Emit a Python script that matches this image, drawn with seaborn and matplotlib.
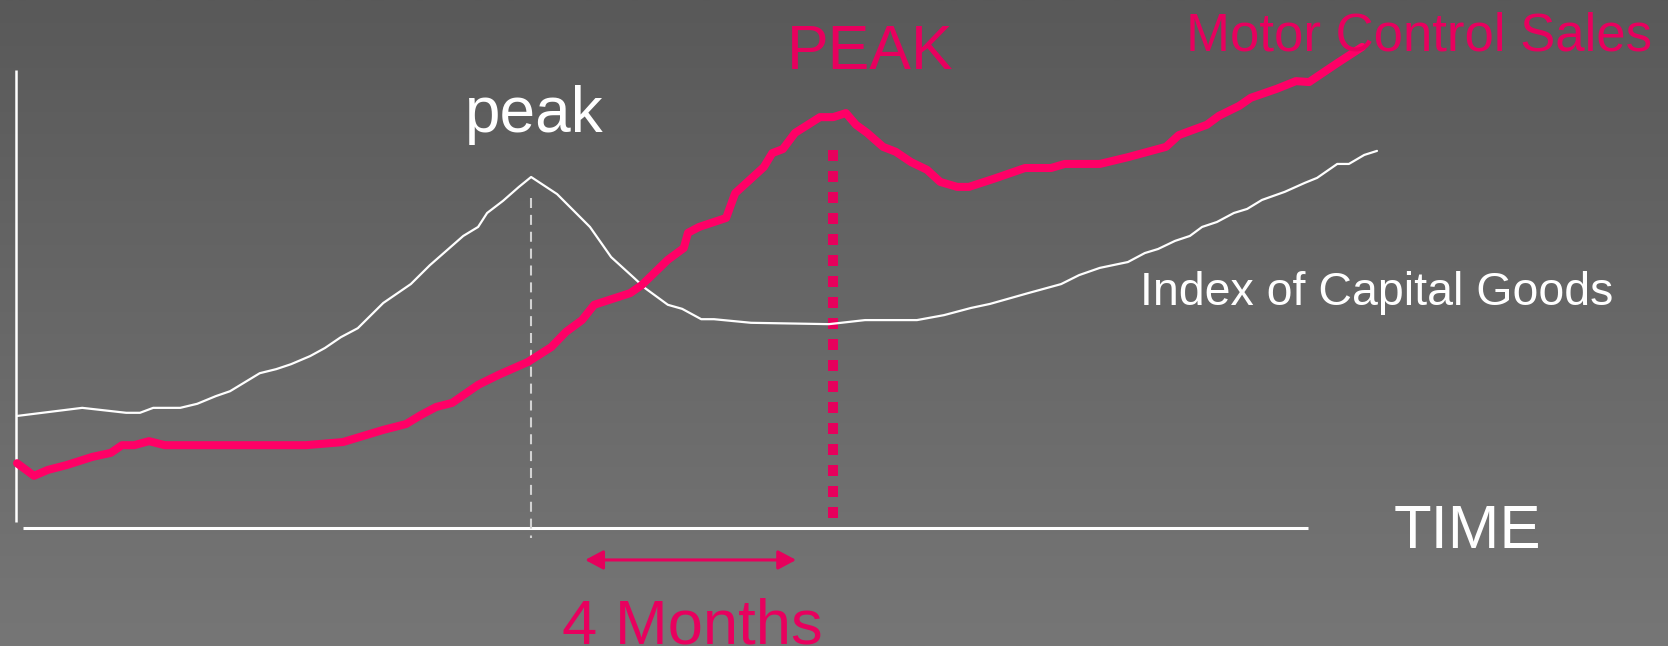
import numpy as np
import pandas as pd
import matplotlib.pyplot as plt
from matplotlib.colors import LinearSegmentedColormap
import seaborn as sns

# time in months from the left axis, index in arbitrary units above the time axis
capital_month = [0.00, 1.23, 2.06, 2.32, 2.57, 3.08, 3.40, 3.75, 4.02, 4.30, 4.58, 4.89,
                 5.17, 5.53, 5.81, 6.11, 6.43, 6.91, 7.43, 7.79, 8.42, 8.70, 8.87, 9.17,
                 9.47, 9.70, 10.19, 10.81, 11.21, 11.64, 11.85, 12.28, 12.55, 12.91, 13.15,
                 13.85, 15.32, 15.55, 16.00, 16.98, 17.49, 18.00, 18.36, 19.08, 19.70, 20.04,
                 20.43, 20.96, 21.28, 21.53, 21.85, 22.13, 22.36, 22.64, 22.96, 23.21, 23.49,
                 23.92, 24.30, 24.53, 24.91, 25.13, 25.42, 25.66]
capital_index = [24.9, 26.7, 25.6, 25.6, 26.7, 26.7, 27.6, 29.3, 30.4, 32.4, 34.4, 35.3,
                 36.4, 38.2, 40.0, 42.4, 44.4, 50.0, 54.2, 58.4, 64.9, 66.9, 70.0, 72.7,
                 75.8, 78.0, 74.2, 66.9, 60.2, 55.6, 53.3, 49.6, 48.7, 46.4, 46.4,
                 45.6, 45.3, 45.6, 46.2, 46.2, 47.3, 48.9, 49.8, 52.2, 54.2, 56.2,
                 57.8, 59.1, 61.1, 62.0, 63.8, 64.9, 66.9, 68.0, 70.0, 70.9, 72.9,
                 74.7, 76.7, 77.8, 80.9, 80.9, 82.9, 83.8]

motor_month = [0.00, 0.32, 0.58, 0.94, 1.42, 1.77, 1.98, 2.21, 2.49, 2.79, 5.45, 6.15,
               6.91, 7.34, 7.62, 7.91, 8.21, 8.70, 9.08, 9.64, 10.08, 10.36, 10.66, 10.89,
               11.57, 11.79, 12.28, 12.58, 12.66, 12.87, 13.38, 13.55, 14.09, 14.25, 14.45,
               14.68, 15.15, 15.40, 15.64, 15.83, 16.04, 16.34, 16.58, 16.87, 17.17, 17.42,
               17.74, 17.96, 18.43, 19.02, 19.51, 19.77, 20.43, 20.96, 21.68, 21.92, 22.45,
               22.68, 23.06, 23.28, 23.77, 24.13, 24.38, 24.91, 25.38]
motor_index = [14.4, 11.6, 12.9, 14.0, 15.8, 16.7, 18.4, 18.4, 19.3, 18.4, 18.4, 19.1,
               21.8, 23.1, 25.1, 26.9, 27.8, 31.8, 34.0, 36.9, 40.2, 43.6, 46.2, 49.6,
               52.2, 54.0, 59.6, 62.2, 65.6, 66.9, 68.9, 74.4, 80.2, 83.3, 84.2,
               87.8, 91.3, 91.3, 92.2, 89.6, 87.8, 84.7, 83.6, 81.3, 79.6, 76.9,
               75.8, 75.8, 77.6, 80.0, 80.0, 80.9, 80.9, 82.4, 84.7, 87.3, 89.6,
               91.6, 93.8, 95.6, 97.6, 99.3, 99.1, 103.3, 106.9]

capital_peak = 9.70
motor_peak = 15.40
lead_from, lead_to = 10.72, 14.70

pink = '#FF0066'
pink_text = '#E8005E'

df_cap = pd.DataFrame({'month': capital_month, 'index': capital_index})
df_mot = pd.DataFrame({'month': motor_month, 'index': motor_index})

sns.set_style('white')
plt.rcParams['font.family'] = ['Liberation Sans', 'DejaVu Sans']

fig = plt.figure(figsize=(16.68, 6.46), dpi=100)
ax = fig.add_axes([0, 0, 1, 1])
xlim = (-0.321, 31.151)
ylim = (-26.22, 117.33)
ax.set_xlim(xlim)
ax.set_ylim(ylim)
ax.axis('off')

# slide background, darker at the top
bg = LinearSegmentedColormap.from_list('bg', ['#767676', '#595959'])
ax.imshow(np.linspace(0, 1, 256).reshape(-1, 1), cmap=bg, origin='lower',
          extent=(xlim[0], xlim[1], ylim[0], ylim[1]), aspect='auto', zorder=0)

# hand drawn axes
ax.plot([-0.02, -0.02], [1.3, 101.8], color='white', lw=1.8, solid_capstyle='butt', zorder=2)
ax.plot([0.11, 24.36], [0, 0], color='white', lw=2.2, solid_capstyle='butt', zorder=2)

# peak markers
ax.plot([capital_peak, capital_peak], [73.3, -2.2], color='#D2D2D2', lw=1.5,
        linestyle=(0, (4.8, 3.3)), zorder=2)
ax.plot([motor_peak, motor_peak], [84.0, 1.3], color='#E6005C', lw=7.2,
        linestyle=(0, (1.1, 1.0)), dash_capstyle='butt', zorder=2)

sns.lineplot(data=df_cap, x='month', y='index', color='white', lw=1.6,
             estimator=None, sort=False, ax=ax, zorder=3)
sns.lineplot(data=df_mot, x='month', y='index', color=pink, lw=5.8,
             estimator=None, sort=False, ax=ax, zorder=4,
             solid_capstyle='round', solid_joinstyle='round')
ax.set_xlim(xlim)
ax.set_ylim(ylim)
ax.axis('off')

ax.annotate('', xy=(lead_from, -7.1), xytext=(lead_to, -7.1),
            arrowprops=dict(arrowstyle='<|-|>,head_length=0.375,head_width=0.2',
                            color='#E6005C', lw=2.2, shrinkA=0, shrinkB=0,
                            mutation_scale=29), zorder=5)

ax.text(8.45, 88.0, 'peak', color='white', fontsize=46, ha='left', va='baseline', zorder=6)
ax.text(14.53, 102.0, 'PEAK', color=pink_text, fontsize=45, ha='left', va='baseline', zorder=6)
ax.text(22.06, 106.0, 'Motor Control Sales', color=pink_text, fontsize=38,
        ha='left', va='baseline', zorder=6)
ax.text(21.19, 49.6, 'Index of Capital Goods', color='white', fontsize=33.5,
        ha='left', va='baseline', zorder=6)
ax.text(25.98, -4.4, 'TIME', color='white', fontsize=44.5, ha='left', va='baseline', zorder=6)
ax.text(10.28, -25.6, '4 Months', color=pink_text, fontsize=45.5, ha='left', va='baseline', zorder=6)

plt.savefig('out.png', dpi=100)
